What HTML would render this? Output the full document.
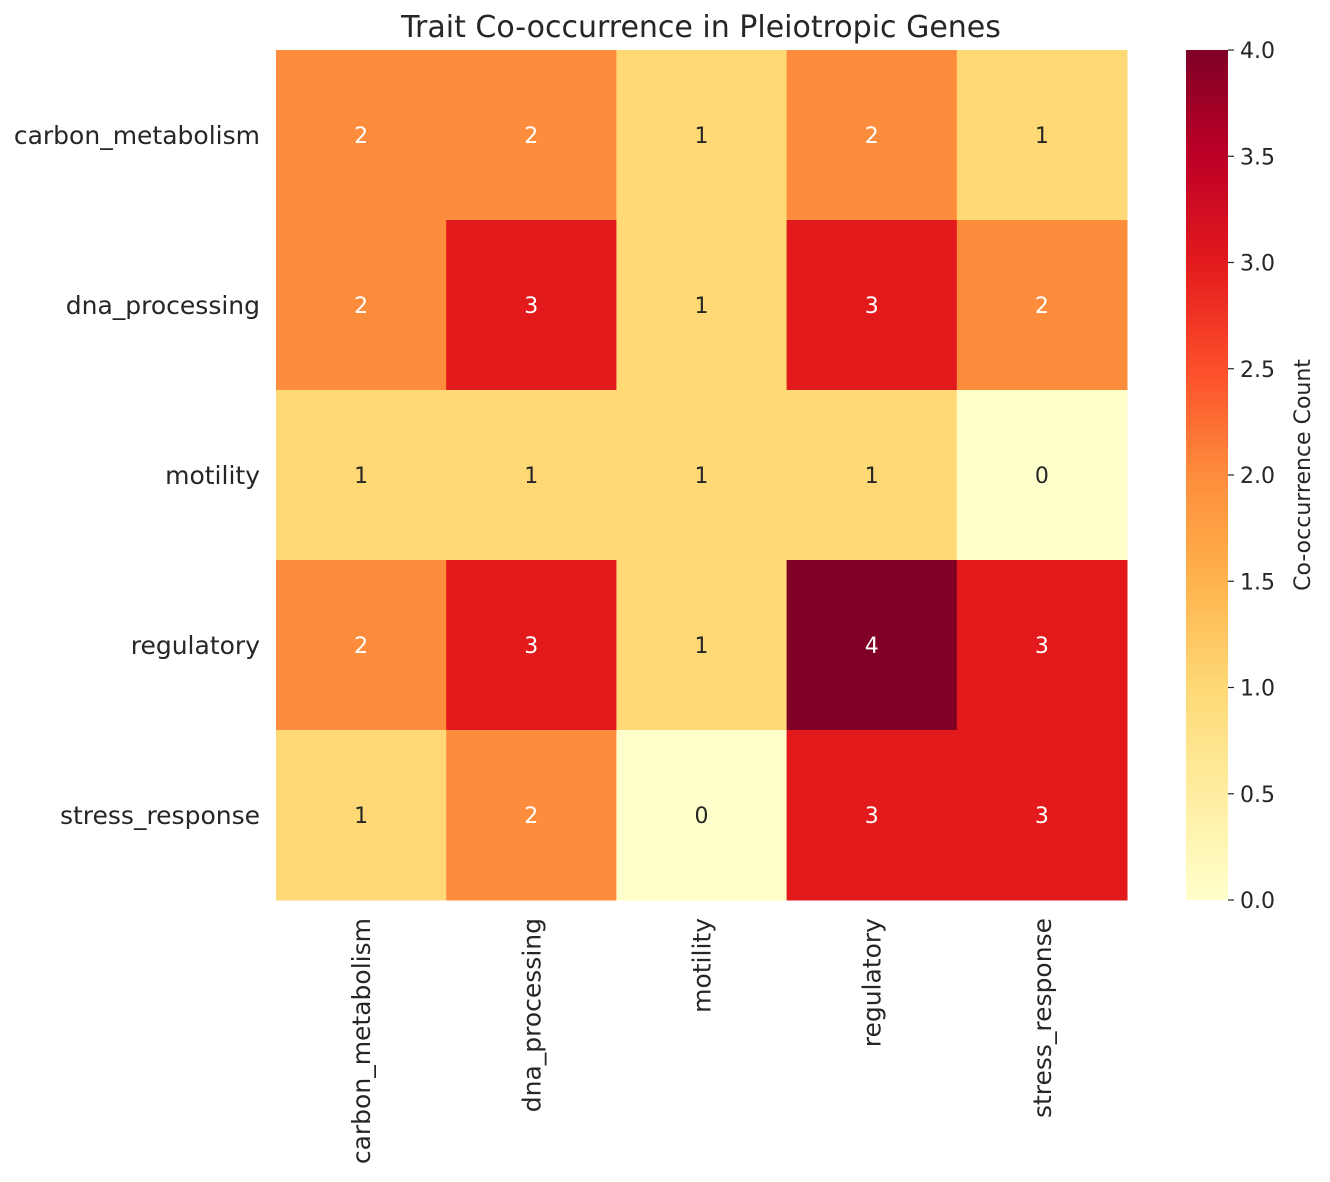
<!DOCTYPE html>
<html><head><meta charset="utf-8"><style>
body{margin:0;background:#fff;font-family:"Liberation Sans","DejaVu Sans",sans-serif;}
svg text{font-family:"DejaVu Sans","Liberation Sans",sans-serif;}
</style></head><body>
<svg id="chart" width="1330" height="1177" xmlns="http://www.w3.org/2000/svg">
<defs>
<linearGradient id="cb" x1="0" y1="1" x2="0" y2="0">
<stop offset="0" stop-color="#ffffcc"/><stop offset="0.125" stop-color="#ffeda0"/>
<stop offset="0.25" stop-color="#fed976"/><stop offset="0.375" stop-color="#feb24c"/>
<stop offset="0.5" stop-color="#fd8d3c"/><stop offset="0.625" stop-color="#fc4e2a"/>
<stop offset="0.75" stop-color="#e31a1c"/><stop offset="0.875" stop-color="#bd0026"/>
<stop offset="1" stop-color="#800026"/>
</linearGradient>
</defs>
<text x="701" y="37" font-size="30" text-anchor="middle" fill="#262626">Trait Co-occurrence in Pleiotropic Genes</text>
<g id="cells"></g>
<rect x="1186" y="50" width="42" height="850" fill="url(#cb)"/>
<g id="cbticks"></g>
<text transform="translate(1310,475) rotate(-90)" font-size="22" text-anchor="middle" fill="#262626">Co-occurrence Count</text>
</svg>
<script>
const categories=["carbon_metabolism","dna_processing","motility","regulatory","stress_response"];
const values=[[2,2,1,2,1],[2,3,1,3,2],[1,1,1,1,0],[2,3,1,4,3],[1,2,0,3,3]];
const cbTicks=[0,0.5,1,1.5,2,2.5,3,3.5,4];
const vmin=0,vmax=4;
const X0=276,X1=1127,Y0=50,Y1=900;
const cw=(X1-X0)/categories.length,ch=(Y1-Y0)/categories.length;
const colors=["#ffffcc","#fed976","#fd8d3c","#e31a1c","#800026"];
function color(v){const t=(v-vmin)/(vmax-vmin)*4;const i=Math.min(3,Math.floor(t));const f=t-i;
 const a=colors[i],b=colors[i+1];const p=s=>[1,3,5].map(k=>parseInt(s.substr(k,2),16));
 const A=p(a),B=p(b);return "rgb("+A.map((x,k)=>Math.round(x+(B[k]-x)*f)).join(",")+")";}
const NS="http://www.w3.org/2000/svg";
const svg=document.getElementById("chart");const g=document.getElementById("cells");
function mk(tag,attrs,parent){const e=document.createElementNS(NS,tag);for(const k in attrs)e.setAttribute(k,attrs[k]);parent.appendChild(e);return e;}
values.forEach((row,r)=>row.forEach((v,c)=>{
 const rect=mk("rect",{x:X0+c*cw,y:Y0+r*ch,width:cw+0.5,height:ch+0.5,fill:color(v)},g);
 
 
 const t=mk("text",{x:X0+(c+0.5)*cw,y:Y0+(r+0.5)*ch+8,"font-size":22,"text-anchor":"middle",fill:(v>=2?"#ffffff":"#262626")},g);
 t.textContent=v;
 
 
}));
categories.forEach((name,i)=>{
 const t=mk("text",{x:X0-16,y:Y0+(i+0.5)*ch+9,"font-size":25,"text-anchor":"end",fill:"#262626"},svg);
 t.textContent=name;
 
 
 const cx=X0+(i+0.5)*cw+9;
 const u=mk("text",{x:cx,y:918,"font-size":25,"text-anchor":"end",fill:"#262626",transform:"rotate(-90 "+cx+" 918)"},svg);
 u.textContent=name;
 
 
});
const cbg=document.getElementById("cbticks");
cbTicks.forEach(v=>{
 const y=Y1-(v-vmin)/(vmax-vmin)*(Y1-Y0);
 const l=mk("line",{x1:1228,x2:1234,y1:y,y2:y,stroke:"#262626","stroke-width":1.2},cbg);
 
 
 const t=mk("text",{x:1240,y:y+8,"font-size":22,fill:"#262626"},cbg);
 t.textContent=v.toFixed(1);
 
 
});
</script>
</body></html>
